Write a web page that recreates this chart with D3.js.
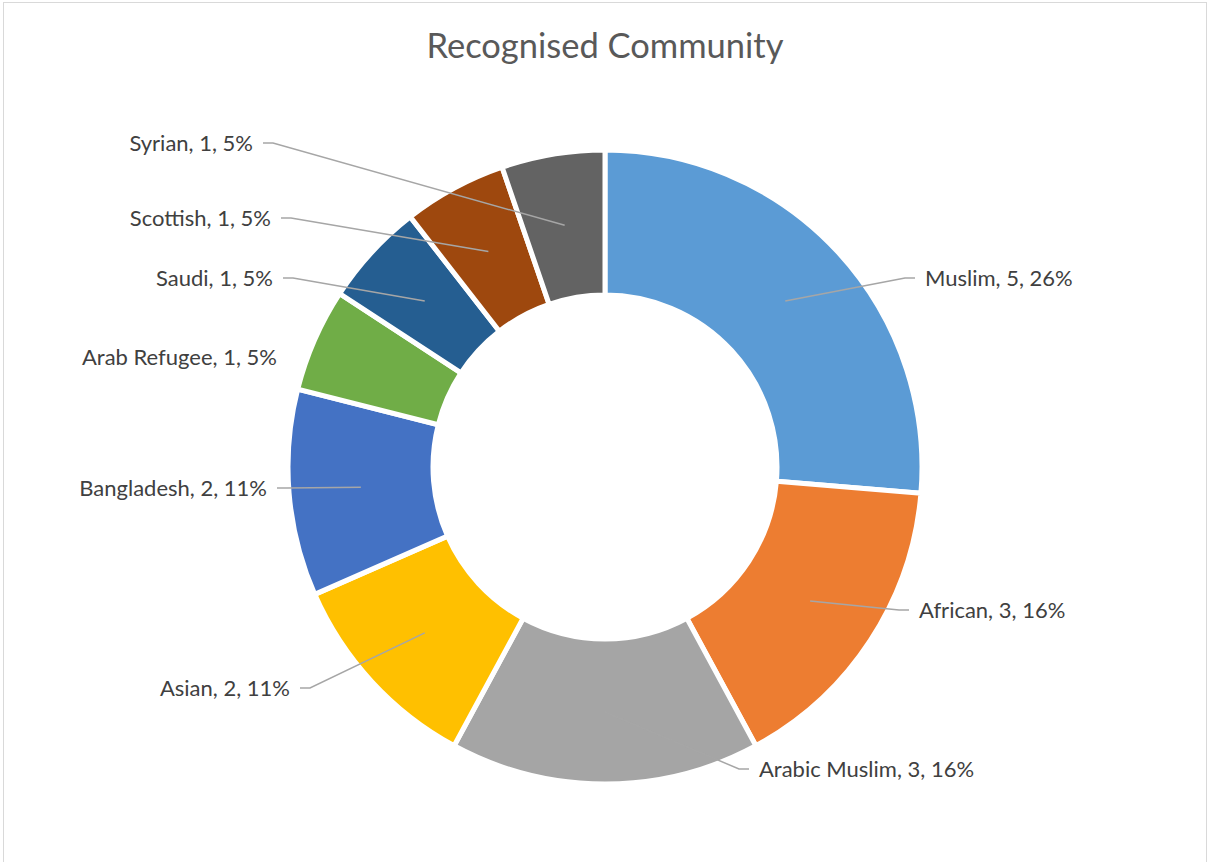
<!DOCTYPE html>
<html>
<head>
<meta charset="utf-8">
<script src="https://cdn.jsdelivr.net/npm/d3@7"></script>
<style>
  html, body { margin: 0; padding: 0; background: #fff; }
  svg { display: block; }
  text { font-family: Lato, "Open Sans", sans-serif; }
</style>
</head>
<body>
<svg id="chart" width="1208" height="862"></svg>
<script>
// data
const categories = ['Muslim', 'African', 'Arabic Muslim', 'Asian', 'Bangladesh',
    'Arab Refugee', 'Saudi', 'Scottish', 'Syrian'];
const counts = [5, 3, 3, 2, 2, 1, 1, 1, 1];
const colors = ['#5B9BD5', '#ED7D31', '#A5A5A5', '#FFC000', '#4472C4',
    '#70AD47', '#255E91', '#9E480E', '#636363'];

// label placement (text anchor point, relative to chart centre) - layout only
const labelAt = [[320, -189], [314, 143], [154, 302], [-315, 221], [-338, 21],
    [-328, -110], [-332, -189], [-334, -249], [-352, -324]];
const showLeader = [true, true, true, true, true, false, true, true, true];

const W = 1208, H = 862;
const cx = 605, cy = 467;
const rOuter = 317, rInner = 172;

const svg = d3.select('#chart');

// chart border
svg.append('rect')
    .attr('x', 3.5)
    .attr('y', 2.5)
    .attr('width', 1203)
    .attr('height', H + 10)
    .attr('fill', 'white')
    .attr('stroke', '#D9D9D9')
    .attr('stroke-width', 1);

// title
svg.append('text')
    .attr('x', cx)
    .attr('y', 58)
    .attr('text-anchor', 'middle')
    .attr('fill', '#595959')
    .style('font-size', '34.5px')
    .text('Recognised Community');

const total = d3.sum(counts);
const rows = categories.map((c, i) => ({name: c, value: counts[i], color: colors[i], i: i}));

const pie = d3.pie()
    .value(d => d.value)
    .sort(null);

const arc = d3.arc()
    .innerRadius(rInner)
    .outerRadius(rOuter);

const midArc = d3.arc()
    .innerRadius(245)
    .outerRadius(245);

const g = svg.append('g')
    .attr('transform', `translate(${cx},${cy})`);

const arcs = pie(rows);

g.selectAll('path.slice')
    .data(arcs)
    .join('path')
    .attr('class', 'slice')
    .attr('d', arc)
    .attr('fill', d => d.data.color)
    .attr('stroke', 'white')
    .attr('stroke-width', 5)
    .attr('stroke-linejoin', 'miter');

// leader lines
g.selectAll('polyline.leader')
    .data(arcs.filter(d => showLeader[d.data.i]))
    .join('polyline')
    .attr('class', 'leader')
    .attr('fill', 'none')
    .attr('stroke', '#A6A6A6')
    .attr('stroke-width', 1.5)
    .attr('points', d => {
        const [tx, ty] = labelAt[d.data.i];
        const side = tx > 0 ? 1 : -1;
        const c = midArc.centroid(d);
        return [c, [tx - side * 20, ty], [tx - side * 10, ty]].map(p => p.join(',')).join(' ');
    });

// labels
const fmtPct = v => Math.round(v / total * 100) + '%';
g.selectAll('text.label')
    .data(arcs)
    .join('text')
    .attr('class', 'label')
    .attr('x', d => labelAt[d.data.i][0])
    .attr('y', d => labelAt[d.data.i][1])
    .attr('dy', '0.35em')
    .attr('text-anchor', d => labelAt[d.data.i][0] > 0 ? 'start' : 'end')
    .attr('fill', '#404040')
    .style('font-size', '22px')
    .text(d => `${d.data.name}, ${d.data.value}, ${fmtPct(d.data.value)}`);
</script>
</body>
</html>
